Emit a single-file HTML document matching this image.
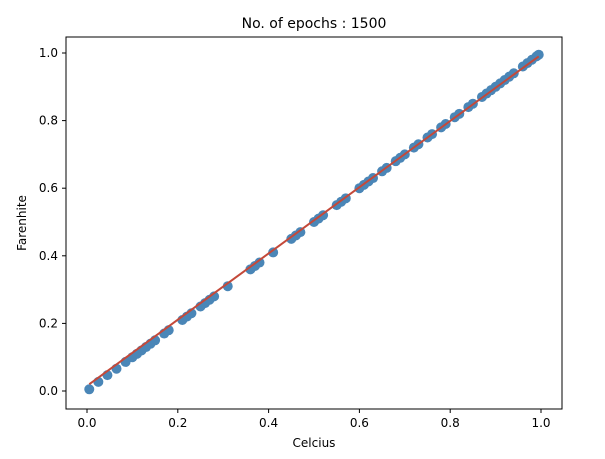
<!DOCTYPE html>
<html><head><meta charset="utf-8"><style>
body{margin:0;background:#fff;}
svg text{font-family:"DejaVu Sans","Liberation Sans",sans-serif;fill:#000;}
</style></head><body>
<svg id="chart" width="605" height="454" xmlns="http://www.w3.org/2000/svg">
<rect width="605" height="454" fill="#fff"/>
<text x="314" y="28" font-size="14" text-anchor="middle">No. of epochs : 1500</text>
<g id="marks"></g>
<rect x="66" y="37" width="496" height="372" fill="none" stroke="#000" stroke-width="1"/>
<g id="axes"></g>
<text x="314" y="447" font-size="12" text-anchor="middle">Celcius</text>
<text x="26" y="223" font-size="12" text-anchor="middle" transform="rotate(-90 26 223)">Farenhite</text>
</svg>
<script>
const xs = [0.005,0.025,0.045,0.065,0.085,0.1,0.11,0.12,0.13,0.14,0.15,0.17,0.18,0.21,0.22,0.23,0.25,0.26,0.27,0.28,0.31,0.36,0.37,0.38,0.41,0.45,0.46,0.47,0.5,0.51,0.52,0.55,0.56,0.57,0.6,0.61,0.62,0.63,0.65,0.66,0.68,0.69,0.7,0.72,0.73,0.75,0.76,0.78,0.79,0.81,0.82,0.84,0.85,0.87,0.88,0.89,0.9,0.91,0.92,0.93,0.94,0.96,0.97,0.98,0.99,0.995];
const ys = [0.005,0.027,0.047,0.066,0.086,0.1,0.11,0.12,0.13,0.14,0.15,0.17,0.18,0.21,0.22,0.23,0.25,0.26,0.27,0.28,0.31,0.36,0.37,0.38,0.41,0.45,0.46,0.47,0.5,0.51,0.52,0.55,0.56,0.57,0.6,0.61,0.62,0.63,0.65,0.66,0.68,0.69,0.7,0.72,0.73,0.75,0.76,0.78,0.79,0.81,0.82,0.84,0.85,0.87,0.88,0.89,0.9,0.91,0.92,0.93,0.94,0.96,0.97,0.98,0.99,0.995];
const fitX = [0.005,0.995];
const fitY = [0.02,0.99];
const xTicks = [0.0,0.2,0.4,0.6,0.8,1.0];
const yTicks = [0.0,0.2,0.4,0.6,0.8,1.0];
const tickLabels = ["0.0","0.2","0.4","0.6","0.8","1.0"];

const NS="http://www.w3.org/2000/svg";
function sx(v){return 87+v*454;}
function sy(v){return 391-v*338;}
const marks=document.getElementById('marks');
const axes=document.getElementById('axes');
function mk(t,a,p){const e=document.createElementNS(NS,t);for(const k in a)e.setAttribute(k,a[k]);p.appendChild(e);return e;}
xs.forEach((x,i)=>{
  const c=mk('circle',{cx:sx(x),cy:sy(ys[i]),r:5,fill:'#4a86b7'},marks);
  
  
});
const ln=mk('line',{x1:sx(fitX[0]),y1:sy(fitY[0]),x2:sx(fitX[1]),y2:sy(fitY[1]),stroke:'#c4493a','stroke-width':2},marks);


xTicks.forEach((v,i)=>{
  const x=sx(v);
  mk('line',{x1:x,y1:409,x2:x,y2:413,stroke:'#000'},axes);
  const t=mk('text',{x:x,y:427,'font-size':12,'text-anchor':'middle'},axes);
  t.textContent=tickLabels[i];
  
  
});
yTicks.forEach((v,i)=>{
  const y=sy(v);
  mk('line',{x1:62,y1:y,x2:66,y2:y,stroke:'#000'},axes);
  const t=mk('text',{x:58,y:y+4,'font-size':12,'text-anchor':'end'},axes);
  t.textContent=tickLabels[i];
  
  
});
</script>
</body></html>
